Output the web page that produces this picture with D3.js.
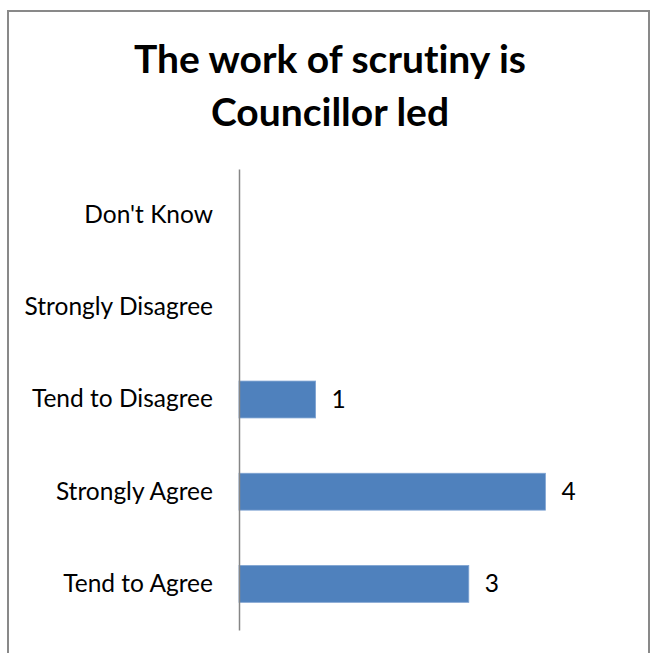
<!DOCTYPE html>
<html>
<head>
<meta charset="utf-8">
<script src="https://cdn.jsdelivr.net/npm/d3@7"></script>
<style>
  body { margin: 0; background: #fff; }
  text { font-family: Lato, "Open Sans", sans-serif; fill: #000; font-variant-ligatures: none; }
</style>
</head>
<body>
<div class="container"></div>
<script>
const WIDTH = 654;
const HEIGHT = 653;

const TITLE_LINES = ["The work of scrutiny is", "Councillor led"];
const CATEGORIES = ["Don't Know", "Strongly Disagree", "Tend to Disagree", "Strongly Agree", "Tend to Agree"];
const VALUES = [0, 0, 1, 4, 3];
const X_MAX = 5;

var translate = function(x, y){
    return "translate(" + x + "," + y + ")";
};

var xScale = d3.scaleLinear()
    .domain([0, X_MAX])
    .range([239, 622]);

var yScale = d3.scaleBand()
    .domain(CATEGORIES)
    .range([169, 630])
    .paddingInner(0.6)
    .paddingOuter(0.3);

var data = CATEGORIES.map(function(c, i){ return {cat: c, value: VALUES[i]}; });

var svg = d3.select('.container').append('svg')
    .attr('width', WIDTH)
    .attr('height', HEIGHT);

// chart frame (bottom runs off the picture)
svg.append('rect')
    .attr('x', 8)
    .attr('y', 11)
    .attr('width', 641)
    .attr('height', 700)
    .attr('fill', '#fff')
    .attr('stroke', '#898989')
    .attr('stroke-width', 2);

svg.append('g').selectAll('text')
    .data(TITLE_LINES)
    .enter()
    .append('text')
    .attr('x', 330)
    .attr('y', function(d, i){ return 73 + i * 53; })
    .attr('text-anchor', 'middle')
    .style('font-size', '39px')
    .style('font-weight', 'bold')
    .text(function(d){ return d; });

svg.append('g').selectAll('rect')
    .data(data)
    .enter()
    .append('rect')
    .attr('x', xScale(0))
    .attr('y', function(d){ return yScale(d.cat); })
    .attr('width', function(d){ return xScale(d.value) - xScale(0); })
    .attr('height', yScale.bandwidth())
    .attr('fill', '#4F81BD')
    .attr('stroke', '#7FA3D2')
    .attr('stroke-width', function(d){ return d.value > 0 ? 0.8 : 0; });

var yAxis = d3.axisLeft(yScale).tickSize(0).tickSizeOuter(0).tickPadding(26);

var axisG = svg.append('g')
    .attr('transform', translate(xScale(0), 0))
    .call(yAxis);
axisG.select('.domain').attr('stroke', '#868686').attr('stroke-width', 1.5);
axisG.selectAll('text')
    .style('font-family', 'Lato, "Open Sans", sans-serif')
    .style('font-size', '24.5px')
    .attr('fill', '#000');

svg.append('g').selectAll('text')
    .data(data.filter(function(d){ return d.value > 0; }))
    .enter()
    .append('text')
    .attr('x', function(d){ return xScale(d.value) + 16; })
    .attr('y', function(d){ return yScale(d.cat) + yScale.bandwidth() / 2; })
    .attr('dy', '0.35em')
    .style('font-size', '24.5px')
    .text(function(d){ return d.value; });
</script>
</body>
</html>
